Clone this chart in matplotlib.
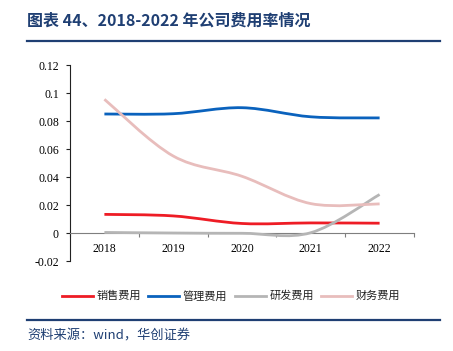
import numpy as np
import matplotlib as mpl
mpl.use('Agg')
import matplotlib.pyplot as plt
from matplotlib.path import Path
from matplotlib.patches import PathPatch
from matplotlib.lines import Line2D

years = ['2018', '2019', '2020', '2021', '2022']
sales = [0.0133, 0.0122, 0.0068, 0.0072, 0.0070]      # 销售费用
admin = [0.0850, 0.0852, 0.0895, 0.0830, 0.0822]      # 管理费用
rnd = [0.0004, 0.0000, -0.0002, 0.0002, 0.0275]       # 研发费用
finance = [0.0955, 0.0550, 0.0405, 0.0210, 0.0208]    # 财务费用

names = ['销售费用', '管理费用', '研发费用', '财务费用']
colors = ['#EE1C25', '#0A62BD', '#B5B5B5', '#E8BDBC']
yticks = [-0.02, 0, 0.02, 0.04, 0.06, 0.08, 0.1, 0.12]
ytick_labels = ['-0.02', '0', '0.02', '0.04', '0.06', '0.08', '0.1', '0.12']

navy = '#1F3F73'
cjk = ['Noto Sans CJK SC', 'DejaVu Sans']
serif = ['Liberation Serif', 'DejaVu Serif']
W, H = 453.0, 351.0


def smooth_path(x, y):
    # bezier path through the points, like a spreadsheet "smoothed line"
    pts = np.column_stack([x, y]).astype(float)
    n = len(pts)
    verts = [pts[0]]
    codes = [Path.MOVETO]
    for i in range(n - 1):
        p0 = pts[i - 1] if i > 0 else pts[i]
        p1 = pts[i]
        p2 = pts[i + 1]
        p3 = pts[i + 2] if i + 2 < n else pts[i + 1]
        c1 = p1 + (p2 - p0) / 6.0
        c2 = p2 - (p3 - p1) / 6.0
        verts += [c1, c2, p2]
        codes += [Path.CURVE4] * 3
    return Path(verts, codes)


fig = plt.figure(figsize=(W / 100, H / 100), dpi=100)
ax = fig.add_axes([70 / W, 1 - 261 / H, 344 / W, 196 / H])

xs = np.arange(len(years))
for vals, c in zip([sales, admin, rnd, finance], colors):
    ax.add_patch(PathPatch(smooth_path(xs, vals), facecolor='none',
                           edgecolor=c, linewidth=2.0, capstyle='butt', zorder=3))

ax.set_xlim(-0.5, 4.5)
ax.set_ylim(-0.02, 0.12)

ax.spines['top'].set_visible(False)
ax.spines['right'].set_visible(False)
ax.spines['left'].set_color('#222222')
ax.spines['left'].set_linewidth(0.8)
ax.spines['bottom'].set_position(('data', 0))
ax.spines['bottom'].set_color('#7F7F7F')
ax.spines['bottom'].set_linewidth(0.8)

ax.set_yticks(yticks)
ax.set_yticklabels(ytick_labels, family=serif, fontsize=8.5)
ax.tick_params(axis='y', direction='out', length=3, width=0.8, pad=5, colors='#222222')
ax.tick_params(axis='y', labelcolor='black')

ax.set_xticks(np.arange(-0.5, 4.6, 1.0))
ax.set_xticklabels([])
ax.tick_params(axis='x', which='major', direction='out', length=3, width=0.8, color='#7F7F7F')
ax.set_xticks(xs, minor=True)
ax.set_xticklabels(years, minor=True, family=serif, fontsize=8.5)
ax.tick_params(axis='x', which='minor', length=0, pad=7)

# title and rules
fig.text(27 / W, 1 - 21 / H, '图表 44、2018-2022 年公司费用率情况', family=cjk,
         fontsize=11.5, fontweight='bold', color=navy, va='center', ha='left')
fig.add_artist(Line2D([27 / W, 440 / W], [1 - 41 / H, 1 - 41 / H],
                      color=navy, linewidth=1.6))
fig.add_artist(Line2D([27 / W, 440 / W], [1 - 320 / H, 1 - 320 / H],
                      color=navy, linewidth=1.6))
fig.text(27 / W, 1 - 336 / H, '资料来源：wind，华创证券', family=cjk,
         fontsize=9.5, style='italic', color=navy, va='center', ha='left')

# legend, laid out by hand
leg_x = [62, 148, 235, 321]
leg_y = 1 - 296 / H
for x0, c, nm in zip(leg_x, colors, names):
    fig.add_artist(Line2D([x0 / W, (x0 + 31) / W], [leg_y, leg_y], color=c, linewidth=2.0))
    fig.text((x0 + 35) / W, leg_y, nm, family=cjk,
             fontsize=8, color='#222222', va='center', ha='left')

fig.savefig('out.png', dpi=100)
plt.close()
